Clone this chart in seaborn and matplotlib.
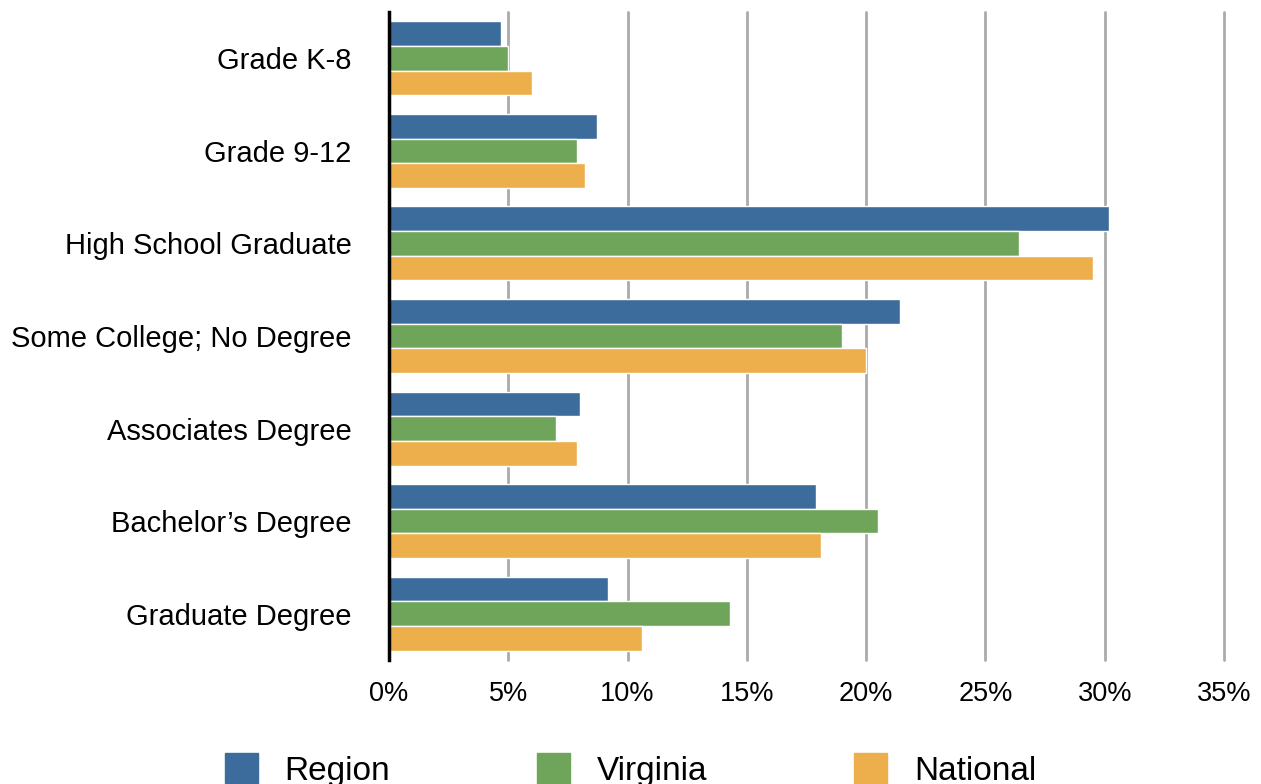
import pandas as pd
import matplotlib.pyplot as plt
import seaborn as sns
from matplotlib.ticker import PercentFormatter

categories = ['Grade K-8', 'Grade 9-12', 'High School Graduate', 'Some College; No Degree',
              'Associates Degree', 'Bachelor\u2019s Degree', 'Graduate Degree']
region = [4.7, 8.7, 30.2, 21.4, 8.0, 17.9, 9.2]
virginia = [5.0, 7.9, 26.4, 19.0, 7.0, 20.5, 14.3]
national = [6.0, 8.2, 29.5, 20.0, 7.9, 18.1, 10.6]
series = ['Region', 'Virginia', 'National']
colors = ['#3c6c9c', '#6ea55a', '#ecaf4b']

def plot_education():
    df = pd.DataFrame({'category': categories * 3,
                       'value': region + virginia + national,
                       'series': [s for s in series for _ in categories]})

    sns.set_style('white')
    plt.rcParams['font.family'] = ['Liberation Sans', 'DejaVu Sans']
    fig = plt.figure(figsize=(12.61, 7.84), dpi=100)
    ax = fig.add_axes([389 / 1261, 1 - 660 / 784, (1224 - 389) / 1261, 648 / 784])

    sns.barplot(data=df, y='category', x='value', hue='series', orient='h',
                palette=colors, width=0.8, saturation=1, ax=ax, legend=False,
                edgecolor='white', linewidth=1)

    ax.set_xlim(0, 35)
    ax.set_ylim(6.5, -0.5)
    ax.set_xticks(range(0, 36, 5))
    ax.xaxis.set_major_formatter(PercentFormatter(decimals=0))
    ax.grid(axis='x', color='#aaaaaa', linewidth=2)
    for gl in ax.get_xgridlines():
        gl.set_clip_on(False)
    ax.set_axisbelow(True)
    for side in ['top', 'right', 'bottom']:
        ax.spines[side].set_visible(False)
    ax.spines['left'].set_color('black')
    ax.spines['left'].set_linewidth(2.5)
    ax.spines['left'].set_zorder(5)
    ax.tick_params(axis='both', length=0, labelcolor='black')
    ax.tick_params(axis='x', pad=15, labelsize=19.5)
    ax.tick_params(axis='y', pad=27, labelsize=21)
    ax.set_xlabel('')
    ax.set_ylabel('')

    handles = [plt.Rectangle((0, 0), 1, 1, color=c) for c in colors]
    leg = fig.legend(handles, series, loc='center', bbox_to_anchor=(0.5, 0.018), ncol=3,
                     frameon=False, fontsize=24, handlelength=1, handleheight=1,
                     handletextpad=0.8, columnspacing=4.4, borderpad=0)
    for t in leg.get_texts():
        t.set_color('black')

    plt.savefig('out.png', dpi=100)

if __name__ == "__main__":
    plot_education()
